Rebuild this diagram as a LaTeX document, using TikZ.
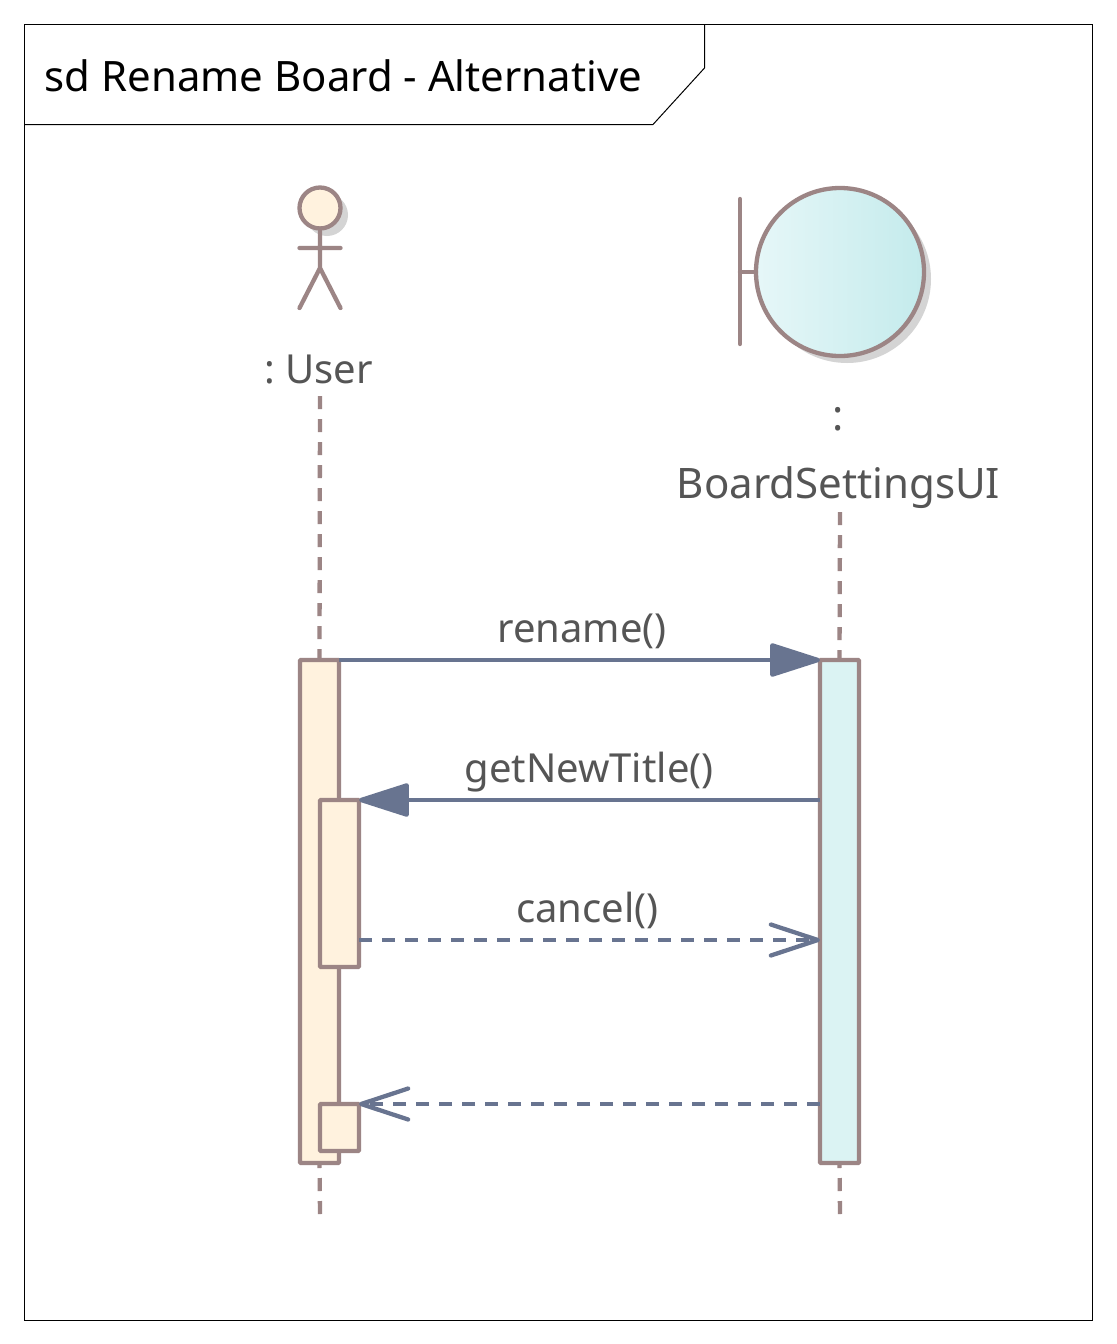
\documentclass[tikz,border=0pt]{standalone}
\usepackage{fontspec}
\setmainfont{Noto Sans}
\usetikzlibrary{arrows.meta}
\definecolor{edgec}{HTML}{9C8585}
\definecolor{msgc}{HTML}{687490}
\definecolor{txtc}{HTML}{555555}
\definecolor{userfill}{HTML}{FFF2DE}
\definecolor{boardfill}{HTML}{DBF3F3}
\definecolor{gradl}{HTML}{E6F7F8}
\definecolor{gradr}{HTML}{C4EBEC}
\definecolor{shadowc}{HTML}{D4D4D4}
\tikzset{
  figline/.style={draw=edgec,line width=2.15pt,line cap=round,line join=round},
  lifeline/.style={draw=edgec,line width=2.15pt,dash pattern=on 6.5pt off 5pt},
  activation/.style={draw=edgec,line width=2.15pt,rounded corners=0.5pt,minimum width=19.5pt,inner sep=0pt,outer sep=0pt,anchor=north west},
  syncmsg/.style={draw=msgc,line width=2.15pt,-{Triangle[length=27.5pt,width=17pt,round]}},
  replymsg/.style={draw=msgc,line width=2.15pt,dash pattern=on 6.5pt off 5pt,-{Straight Barb[length=23.5pt,width=15.5pt,round,line width=2.15pt]}},
  msglabel/.style={text=txtc,font=\fontsize{20}{24}\selectfont,inner sep=0pt},
  namelabel/.style={text=txtc,font=\fontsize{21}{25}\selectfont,inner sep=0pt},
}
\begin{document}
\begin{tikzpicture}[x=0.5pt,y=-0.5pt]
\useasboundingbox (0,0) rectangle (1116,1344);
\fill[white] (0,0) rectangle (1116,1344);
% frame
\draw[black,line width=0.5pt] (24.5,24.5) rectangle (1092.5,1320.5);
\draw[black,line width=0.5pt] (24.5,124.5) -- (653,124.5) -- (704.5,68) -- (704.5,24.5);
\node[anchor=west,inner sep=0pt,font=\fontsize{20.95}{24}\selectfont,text=black] (title) at (44.5,75.5) {sd Rename Board - Alternative};
% labels
\node[msglabel] (userlabel) at (318.5,369) {:\kern0.25em User};
\node[namelabel] (boardcolon) at (838,419) {:};
\node[namelabel] (boardlabel) at (838.5,488) {BoardSettingsUI};
% activations are placed first so that the lifelines can end on them
\node[activation,fill=userfill,minimum height=251.5pt] (uact) at (300,660) {};
\node[activation,fill=boardfill,minimum height=251.5pt] (bact) at (820,660) {};
% lifelines
\coordinate (utop) at (320,396);
\coordinate (ubot) at (320,1214);
\coordinate (btop) at (840,512);
\coordinate (bbot) at (840,1214);
\draw[lifeline] (utop) -- (uact.north);
\draw[lifeline] (btop) -- (bact.north);
\draw[lifeline,dash phase=4pt] (uact.south) -- (ubot);
\draw[lifeline,dash phase=4pt] (bact.south) -- (bbot);
% actor
\fill[shadowc] (327,215) circle[radius=21];
\node[circle,figline,fill=userfill,minimum size=20.5pt,inner sep=0pt,outer sep=0pt] (head) at (320,208) {};
\coordinate (hip) at (320,268);
\coordinate (lhand) at (299.5,248);
\coordinate (rhand) at (340.5,248);
\coordinate (lfoot) at (299.5,308);
\coordinate (rfoot) at (340.5,308);
\draw[figline] (head.south) -- (hip) (lhand) -- (rhand) (lfoot) -- (hip) -- (rfoot);
% boundary
\fill[shadowc] (847,279) circle[radius=84];
\node[circle,figline,left color=gradl,right color=gradr,minimum size=84pt,inner sep=0pt,outer sep=0pt] (boundary) at (840,272) {};
\coordinate (bartop) at (740,199);
\coordinate (barbot) at (740,344);
\coordinate (barmid) at (740,272);
\draw[figline] (bartop) -- (barbot) (barmid) -- (boundary.west);
% nested activations
\node[activation,fill=userfill,minimum height=83.5pt] (nest) at (320,800) {};
\node[activation,fill=userfill,minimum height=23.5pt] (small) at (320,1104) {};
% messages
\coordinate (cancely) at (840,940);
\draw[syncmsg] (uact.north east) -- (bact.north west);
\draw[syncmsg] (bact.west |- nest.north east) -- (nest.north east);
\draw[replymsg] (nest.east |- cancely) -- (bact.west |- cancely);
\draw[replymsg] (bact.west |- small.north east) -- (small.north east);
\node[msglabel] (m1) at (582,631) {rename()};
\node[msglabel] (m2) at (589,772) {getNewTitle()};
\node[msglabel] (m3) at (587.5,910) {cancel()};
\end{tikzpicture}
\end{document}
